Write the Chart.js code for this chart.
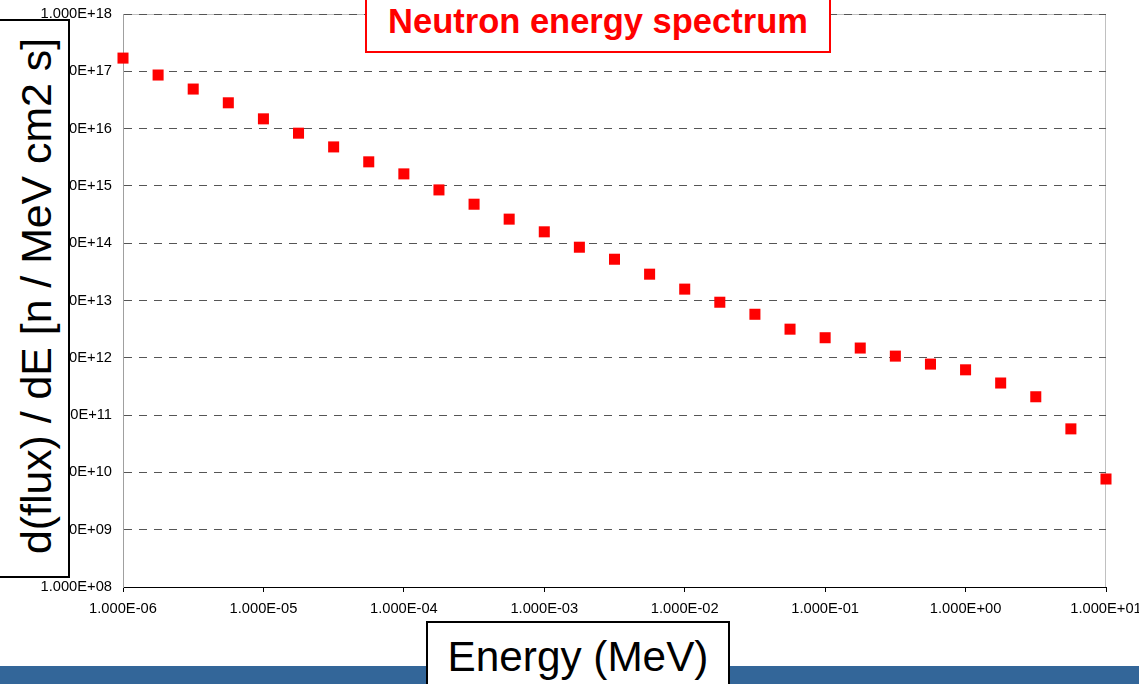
<!DOCTYPE html>
<html>
<head>
<meta charset="utf-8">
<script src="https://cdn.jsdelivr.net/npm/chart.js@4/dist/chart.umd.min.js"></script>
<style>
  html, body { margin: 0; padding: 0; background: #fff; }
  #wrap { position: relative; width: 1139px; height: 684px; overflow: hidden; background: #fff; font-family: "Liberation Sans", Arial, sans-serif; }
  #c { position: absolute; left: 0; top: 0; }
  .ov { position: absolute; box-sizing: border-box; }
  #bar { left: 0; top: 666px; width: 1139px; height: 18px; background: #336699; }
  #titleBox { left: 365px; top: -4px; width: 466px; height: 57px; border: 2px solid #ff0000; background: #fff; }
  #titleTxt { position: absolute; left: 365px; width: 466px; top: 3.8px; text-align: center; font-size: 34.5px; line-height: 34.5px; font-weight: bold; color: #ff0000; white-space: nowrap; }
  #xBox { left: 426px; top: 621px; width: 304px; height: 80px; border: 2px solid #000; background: #fff; }
  #xTxt { position: absolute; left: 426px; width: 304px; top: 636.4px; text-align: center; font-size: 42.3px; line-height: 42.3px; color: #000; white-space: nowrap; }
  #yBox { left: -10px; top: 19px; width: 80px; height: 559px; border: 2px solid #000; background: #fff; }
  #yTxt { position: absolute; left: 36px; top: 296px; font-size: 42.8px; line-height: 42.8px; color: #000; white-space: nowrap; transform: translate(-50%, -50%) rotate(-90deg); }
</style>
</head>
<body>
<div id="wrap">
  <canvas id="c" width="1139" height="684"></canvas>
  <div class="ov" id="bar"></div>
  <div class="ov" id="titleBox"></div>
  <div id="titleTxt">Neutron energy spectrum</div>
  <div class="ov" id="xBox"></div>
  <div id="xTxt">Energy (MeV)</div>
  <div class="ov" id="yBox"></div>
  <div id="yTxt">d(flux) / dE [n / MeV cm2 s]</div>
</div>
<script>
// ---- data ----
const energies = [
  1.000E-06, 1.778E-06, 3.162E-06, 5.623E-06,
  1.000E-05, 1.778E-05, 3.162E-05, 5.623E-05,
  1.000E-04, 1.778E-04, 3.162E-04, 5.623E-04,
  1.000E-03, 1.778E-03, 3.162E-03, 5.623E-03,
  1.000E-02, 1.778E-02, 3.162E-02, 5.623E-02,
  1.000E-01, 1.778E-01, 3.162E-01, 5.623E-01,
  1.000E+00, 1.778E+00, 3.162E+00, 5.623E+00,
  1.000E+01
];
const fluxValues = [
  1.70E+17, 8.61E+16, 4.90E+16, 2.82E+16,
  1.48E+16, 8.32E+15, 4.79E+15, 2.63E+15,
  1.62E+15, 8.51E+14, 4.79E+14, 2.63E+14,
  1.58E+14, 8.51E+13, 5.25E+13, 2.88E+13,
  1.58E+13, 9.33E+12, 5.75E+12, 3.16E+12,
  2.24E+12, 1.48E+12, 1.07E+12, 7.76E+11,
  6.17E+11, 3.63E+11, 2.09E+11, 5.75E+10,
  7.67E+09
];
const xTickValues = [1e-6, 1e-5, 1e-4, 1e-3, 1e-2, 1e-1, 1e0, 1e1];
const xTickLabels = ['1.000E-06', '1.000E-05', '1.000E-04', '1.000E-03', '1.000E-02', '1.000E-01', '1.000E+00', '1.000E+01'];
const yTickValues = [1e8, 1e9, 1e10, 1e11, 1e12, 1e13, 1e14, 1e15, 1e16, 1e17, 1e18];
const yTickLabels = ['1.000E+08', '1.000E+09', '1.000E+10', '1.000E+11', '1.000E+12', '1.000E+13', '1.000E+14', '1.000E+15', '1.000E+16', '1.000E+17', '1.000E+18'];

const points = energies.map((e, i) => ({ x: e, y: fluxValues[i] }));

const frame = {
  id: 'frame',
  beforeDraw(chart) {
    const { ctx, chartArea: a } = chart;
    ctx.save();
    ctx.strokeStyle = '#c0c0c0';
    ctx.lineWidth = 1;
    ctx.beginPath();
    ctx.moveTo(a.left, a.top + 0.5);
    ctx.lineTo(a.right - 0.5, a.top + 0.5);
    ctx.lineTo(a.right - 0.5, a.bottom);
    ctx.stroke();
    ctx.restore();
  }
};

const FONT = { family: '"Liberation Sans", Arial, sans-serif', size: 14.7 };

new Chart(document.getElementById('c'), {
  type: 'scatter',
  data: {
    datasets: [{
      data: points,
      pointStyle: 'rect',
      pointRadius: 7.8,
      pointHoverRadius: 7.8,
      backgroundColor: '#ff0000',
      borderWidth: 0,
      showLine: false,
      clip: false
    }]
  },
  options: {
    responsive: false,
    animation: false,
    events: [],
    layout: { padding: { left: 0, right: 33, top: 14, bottom: 0 } },
    plugins: { legend: { display: false }, tooltip: { enabled: false }, title: { display: false } },
    scales: {
      x: {
        type: 'logarithmic',
        position: 'bottom',
        min: 1e-6,
        max: 1e1,
        afterBuildTicks: s => { s.ticks = xTickValues.map(v => ({ value: v })); },
        afterFit: s => { s.height = 97; s.paddingLeft = 0; s.paddingRight = 0; },
        ticks: {
          autoSkip: false, maxRotation: 0, minRotation: 0,
          padding: 8, color: '#000', font: FONT,
          callback: (v, i) => xTickLabels[i]
        },
        grid: { drawOnChartArea: false, drawTicks: true, tickLength: 5, tickColor: '#000', tickWidth: 1 },
        border: { display: true, color: '#000', width: 1 }
      },
      y: {
        type: 'logarithmic',
        position: 'left',
        min: 1e8,
        max: 1e18,
        afterBuildTicks: s => { s.ticks = yTickValues.map(v => ({ value: v })); },
        afterFit: s => { s.width = 123; s.paddingTop = 0; s.paddingBottom = 0; },
        ticks: {
          autoSkip: false, padding: 11, color: '#000', font: FONT,
          callback: (v, i) => yTickLabels[i]
        },
        grid: {
          drawTicks: false,
          lineWidth: 1,
          color: ctx => (ctx.index === 0 ? 'rgba(0,0,0,0)' : '#555'),
          borderDash: [8, 7]
        },
        border: { display: true, color: '#a0a0a0', width: 1, dash: [8, 7] }
      }
    }
  },
  plugins: [frame]
});
</script>
</body>
</html>
